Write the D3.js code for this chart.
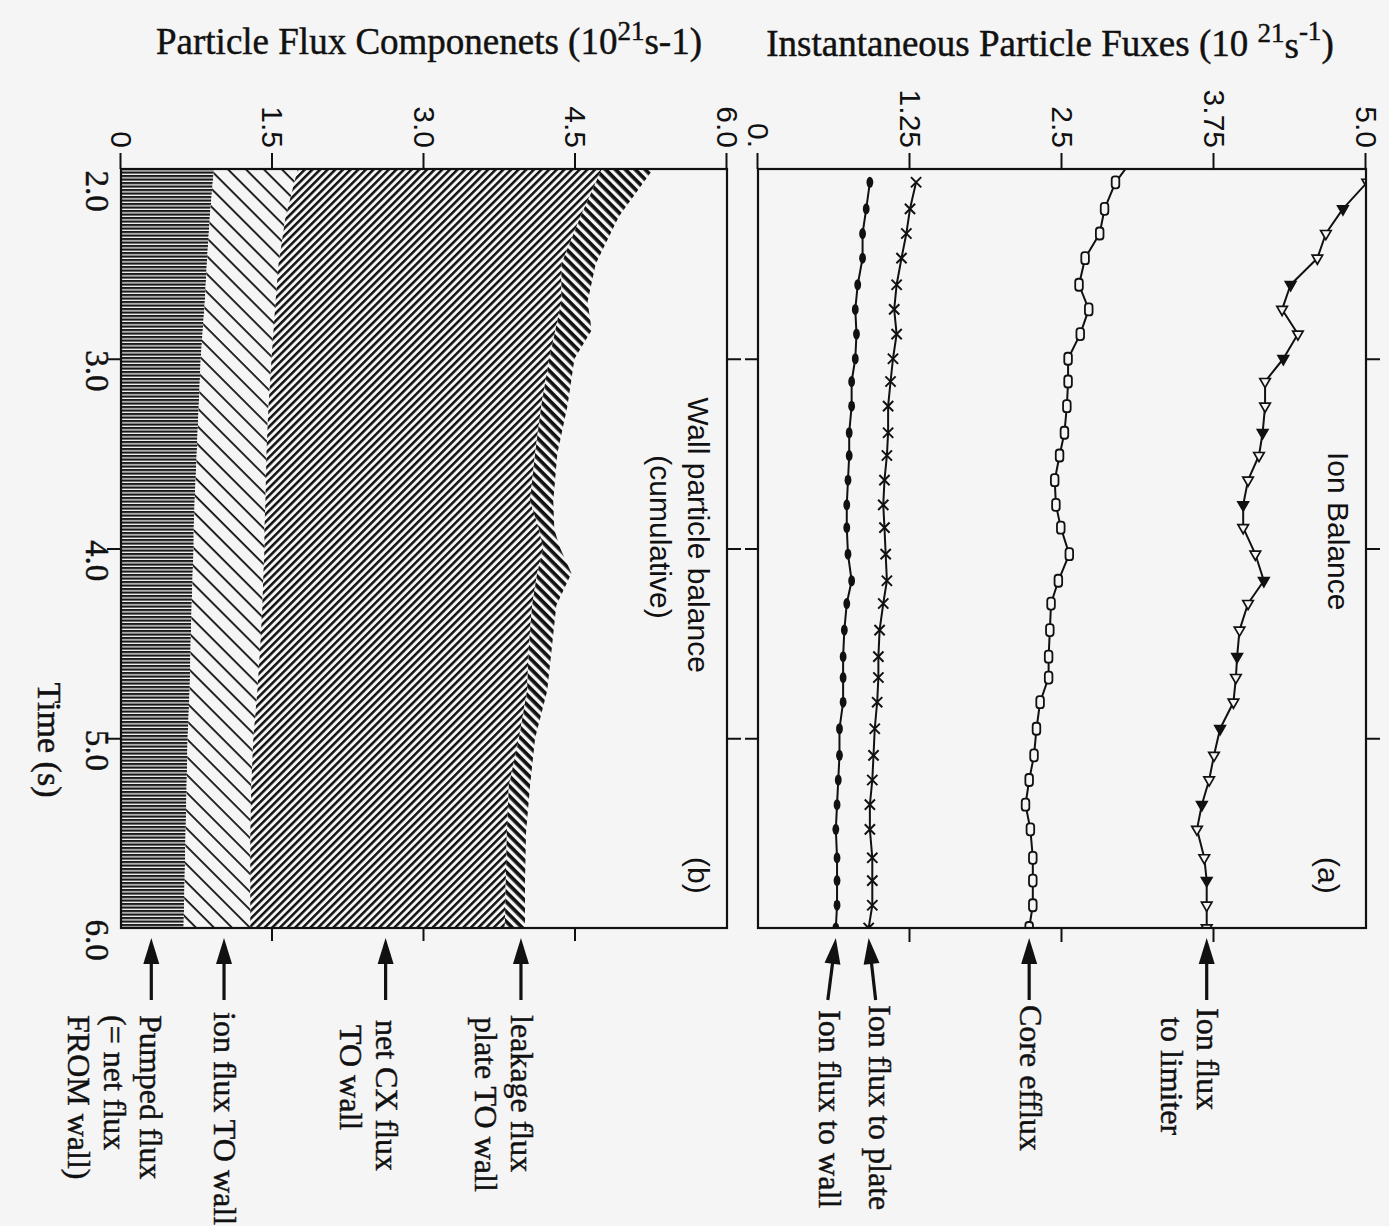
<!DOCTYPE html>
<html>
<head>
<meta charset="utf-8">
<script src="https://cdn.jsdelivr.net/npm/d3@7"></script>
<style>
  html, body { margin: 0; padding: 0; background: #f5f5f5; }
  svg { display: block; }
</style>
</head>
<body>
<svg id="chart" width="1389" height="1226"></svg>
<script>
// ---------- Panel (a): instantaneous particle fluxes (10^21 s^-1) ----------
const timesA = [1.95, 2.07, 2.21, 2.34, 2.47, 2.61, 2.74, 2.87, 3.0, 3.12, 3.25,
  3.39, 3.51, 3.64, 3.77, 3.89, 4.03, 4.17, 4.29, 4.43, 4.57,
  4.68, 4.81, 4.95, 5.09, 5.22, 5.35, 5.48, 5.63, 5.75, 5.88, 6.0];
const ionToLimiter = [5.2, 5.01, 4.81, 4.67, 4.60, 4.38, 4.31, 4.44, 4.32, 4.17, 4.17,
  4.15, 4.12, 4.03, 3.99, 3.99, 4.09, 4.16, 4.03, 3.96, 3.94,
  3.93, 3.91, 3.80, 3.75, 3.71, 3.65, 3.61, 3.67, 3.69, 3.69, 3.69];
const coreEfflux = [3.08, 2.94, 2.85, 2.81, 2.69, 2.64, 2.72, 2.65, 2.55, 2.55, 2.54,
  2.52, 2.48, 2.44, 2.45, 2.49, 2.56, 2.47, 2.41, 2.40, 2.39,
  2.39, 2.32, 2.29, 2.27, 2.23, 2.20, 2.24, 2.26, 2.26, 2.26, 2.23];
const ionToPlate = [null, 1.30, 1.25, 1.22, 1.18, 1.14, 1.12, 1.14, 1.11, 1.09, 1.07,
  1.07, 1.06, 1.04, 1.03, 1.04, 1.05, 1.06, 1.03, 1.00, 0.99,
  0.99, 0.98, 0.96, 0.95, 0.94, 0.92, 0.92, 0.94, 0.94, 0.94, 0.91];
const ionToWall = [null, 0.92, 0.89, 0.86, 0.86, 0.82, 0.80, 0.81, 0.80, 0.77, 0.77,
  0.75, 0.75, 0.74, 0.73, 0.73, 0.74, 0.77, 0.73, 0.71, 0.70,
  0.70, 0.70, 0.67, 0.67, 0.66, 0.65, 0.64, 0.65, 0.65, 0.65, 0.64];

// ---------- Panel (b): wall particle balance components (10^21 s^-1), stacked ----------
const timesB = [2.0, 2.25, 2.5, 2.7, 2.85, 3.0, 3.25, 3.5, 3.75, 3.9, 4.0, 4.13, 4.3, 4.5, 4.75, 5.0, 5.25, 5.5, 5.75, 6.0];
const pumpedFlux  = [0.92, 0.88, 0.85, 0.83, 0.81, 0.79, 0.77, 0.75, 0.73, 0.72, 0.72, 0.71, 0.70, 0.69, 0.68, 0.66, 0.65, 0.64, 0.63, 0.62];
const ionFluxToWall = [0.83, 0.75, 0.71, 0.70, 0.70, 0.70, 0.69, 0.69, 0.70, 0.70, 0.70, 0.70, 0.70, 0.69, 0.67, 0.65, 0.64, 0.64, 0.65, 0.66];
const netCxToWall = [3.01, 2.92, 2.80, 2.83, 2.79, 2.75, 2.70, 2.66, 2.62, 2.72, 2.76, 2.71, 2.67, 2.66, 2.67, 2.63, 2.55, 2.54, 2.53, 2.52];
const leakageToWall = [0.51, 0.38, 0.34, 0.26, 0.36, 0.25, 0.26, 0.22, 0.23, 0.15, 0.17, 0.34, 0.24, 0.23, 0.20, 0.16, 0.21, 0.19, 0.19, 0.20];

// Tick labels
const timeTicks = [2.0, 3.0, 4.0, 5.0, 6.0];
const timeTickLabels = ["2.0", "3.0", "4.0", "5.0", "6.0"];
const ticksA = [0, 1.25, 2.5, 3.75, 5.0];
const tickLabelsA = ["0.", "1.25", "2.5", "3.75", "5.0"];
const ticksB = [0, 1.5, 3.0, 4.5, 6.0];
const tickLabelsB = ["0", "1.5", "3.0", "4.5", "6.0"];

// Arrow call-outs: value pointed at (at t = 6.0) and text lines
const calloutsA = [
  { key: "wall",    value: ionToWall[ionToWall.length - 1],       lines: ["Ion flux to wall"] },
  { key: "plate",   value: ionToPlate[ionToPlate.length - 1],     lines: ["Ion flux to plate"] },
  { key: "core",    value: coreEfflux[coreEfflux.length - 1],     lines: ["Core efflux"] },
  { key: "limiter", value: ionToLimiter[ionToLimiter.length - 1], lines: ["Ion flux", "to limiter"] }
];
const calloutsB = [
  { key: "pumped",  value: 0.30, lines: ["Pumped flux", "(= net flux", "FROM wall)"] },
  { key: "ionwall", value: 1.02, lines: ["ion flux TO wall"] },
  { key: "cx",      value: 2.62, lines: ["net CX flux", "TO wall"] },
  { key: "leak",    value: 3.96, lines: ["leakage flux", "plate TO wall"] }
];

// ---------- Drawing ----------
const BG = "#f5f5f5", INK = "#111";
const SERIF = "'Liberation Serif', 'Times New Roman', serif";
const SANS = "'Liberation Sans', Arial, Helvetica, sans-serif";

const svg = d3.select("#chart");
svg.append("rect").attr("width", 1389).attr("height", 1226).attr("fill", BG);

const defs = svg.append("defs");
function stripes(id, period, width, angle, color) {
  const p = defs.append("pattern")
    .attr("id", id)
    .attr("patternUnits", "userSpaceOnUse")
    .attr("width", period).attr("height", period)
    .attr("patternTransform", `rotate(${angle})`);
  p.append("rect").attr("width", period).attr("height", period).attr("fill", BG);
  p.append("rect").attr("x", 0).attr("y", 0).attr("width", width).attr("height", period).attr("fill", color);
}
stripes("hatch-pumped", 3.5, 2.2, 0, "#1a1a1a");
stripes("hatch-ionwall", 12.7, 1.8, 45, INK);
stripes("hatch-cx", 5.4, 2.5, -45, INK);
stripes("hatch-leak", 7.0, 3.7, 45, INK);

// The whole figure is laid out landscape and turned a quarter turn clockwise.
const g = svg.append("g").attr("transform", "translate(1389,0) rotate(90)");

const x = d3.scaleLinear().domain([2, 6]).range([169, 928]);
const yA = d3.scaleLinear().domain([0, 5]).range([631, 23]);
const yB = d3.scaleLinear().domain([0, 6]).range([1268, 662]);

const frameA = { x0: 169, x1: 928, y0: 23, y1: 631 };
const frameB = { x0: 169, x1: 928, y0: 662, y1: 1268 };

defs.append("clipPath").attr("id", "clipA").append("rect")
  .attr("x", frameA.x0).attr("y", frameA.y0)
  .attr("width", frameA.x1 - frameA.x0).attr("height", frameA.y1 - frameA.y0);
defs.append("clipPath").attr("id", "clipB").append("rect")
  .attr("x", frameB.x0).attr("y", frameB.y0)
  .attr("width", frameB.x1 - frameB.x0).attr("height", frameB.y1 - frameB.y0);

// ----- Panel (b) stacked hatched areas -----
const rowsB = timesB.map((t, i) => ({
  t, pumped: pumpedFlux[i], ionwall: ionFluxToWall[i], cx: netCxToWall[i], leak: leakageToWall[i]
}));
const stackB = d3.stack().keys(["pumped", "ionwall", "cx", "leak"])(rowsB);
const fills = { pumped: "url(#hatch-pumped)", ionwall: "url(#hatch-ionwall)", cx: "url(#hatch-cx)", leak: "url(#hatch-leak)" };
const areaB = d3.area()
  .x(d => x(d.data.t))
  .y0(d => yB(d[0]))
  .y1(d => yB(d[1]));
g.append("g").attr("clip-path", "url(#clipB)")
  .selectAll("path").data(stackB).join("path")
  .attr("d", areaB)
  .attr("fill", d => fills[d.key]);

// ----- Panel (a) lines and markers -----
const seriesA = [
  { key: "limiter", values: ionToLimiter },
  { key: "core", values: coreEfflux },
  { key: "plate", values: ionToPlate },
  { key: "wall", values: ionToWall }
].map(s => ({ key: s.key, pts: timesA.map((t, i) => ({ t, v: s.values[i] })) }));

const lineA = d3.line()
  .defined(d => d.v != null)
  .x(d => x(d.t))
  .y(d => yA(d.v));

const plotA = g.append("g").attr("clip-path", "url(#clipA)");
plotA.selectAll("path.series").data(seriesA).join("path")
  .attr("class", "series")
  .attr("d", d => lineA(d.pts))
  .attr("fill", "none")
  .attr("stroke", INK)
  .attr("stroke-width", 2)
  .attr("stroke-linejoin", "round");

const tri = d3.symbol(d3.symbolTriangle, 48)();
const cross = d3.symbol(d3.symbolX, 70)();
seriesA.forEach(s => {
  const pts = s.pts.filter(d => d.v != null && d.t >= 2.0);
  const mg = plotA.append("g");
  if (s.key === "limiter") {
    mg.selectAll("path").data(pts).join("path")
      .attr("d", tri)
      .attr("transform", d => `translate(${x(d.t)},${yA(d.v)}) rotate(90)`)
      .attr("fill", (d, i) => i % 3 === 1 ? INK : BG)
      .attr("stroke", INK).attr("stroke-width", 1.7);
  } else if (s.key === "core") {
    mg.selectAll("rect").data(pts).join("rect")
      .attr("x", d => x(d.t) - 6).attr("y", d => yA(d.v) - 3.8)
      .attr("width", 12).attr("height", 7.6).attr("rx", 3)
      .attr("fill", BG).attr("stroke", INK).attr("stroke-width", 1.8);
  } else if (s.key === "plate") {
    mg.selectAll("path").data(pts).join("path")
      .attr("d", cross)
      .attr("transform", d => `translate(${x(d.t)},${yA(d.v)})`)
      .attr("fill", "none").attr("stroke", INK).attr("stroke-width", 2);
  } else {
    mg.selectAll("ellipse").data(pts).join("ellipse")
      .attr("cx", d => x(d.t)).attr("cy", d => yA(d.v))
      .attr("rx", 5.5).attr("ry", 3.4)
      .attr("fill", INK);
  }
});

// ----- Frames -----
[frameA, frameB].forEach(f => {
  g.append("rect")
    .attr("x", f.x0).attr("y", f.y0)
    .attr("width", f.x1 - f.x0).attr("height", f.y1 - f.y0)
    .attr("fill", "none").attr("stroke", INK).attr("stroke-width", 2.2);
});

// ----- Axes -----
function styleAxis(sel) {
  sel.select(".domain").remove();
  sel.selectAll(".tick line").attr("stroke", INK).attr("stroke-width", 2);
}

// value axes (with labels)
g.append("g").attr("transform", `translate(${frameA.x0},0)`)
  .call(d3.axisLeft(yA).tickValues(ticksA).tickFormat((d, i) => tickLabelsA[i]).tickSize(16).tickPadding(5))
  .call(styleAxis)
  .call(a => a.selectAll("text").attr("font-family", SANS).attr("font-size", 30).attr("fill", INK));
g.append("g").attr("transform", `translate(${frameB.x0},0)`)
  .call(d3.axisLeft(yB).tickValues(ticksB).tickFormat((d, i) => tickLabelsB[i]).tickSize(16).tickPadding(5))
  .call(styleAxis)
  .call(a => a.selectAll("text").attr("font-family", SANS).attr("font-size", 30).attr("fill", INK));

// value ticks on the far time edge
g.append("g").attr("transform", `translate(${frameA.x1},0)`)
  .call(d3.axisRight(yA).tickValues([1.25, 2.5, 3.75]).tickFormat("").tickSize(14))
  .call(styleAxis);
g.append("g").attr("transform", `translate(${frameB.x1},0)`)
  .call(d3.axisRight(yB).tickValues([1.5, 3.0, 4.5]).tickFormat("").tickSize(13))
  .call(styleAxis);

// time ticks on both long edges of each panel
const innerTimes = [3.0, 4.0, 5.0];
g.append("g").attr("transform", `translate(0,${frameA.y0})`)
  .call(d3.axisTop(x).tickValues(innerTimes).tickFormat("").tickSize(14)).call(styleAxis);
g.append("g").attr("transform", `translate(0,${frameA.y1})`)
  .call(d3.axisBottom(x).tickValues(innerTimes).tickFormat("").tickSize(13)).call(styleAxis);
g.append("g").attr("transform", `translate(0,${frameB.y0})`)
  .call(d3.axisTop(x).tickValues(innerTimes).tickFormat("").tickSize(14)).call(styleAxis);
g.append("g").attr("transform", `translate(0,${frameB.y1})`)
  .call(d3.axisBottom(x).tickValues(innerTimes).tickFormat("").tickSize(14)).call(styleAxis);

// serif text is drawn with a hairline outline to give it the heavier printed weight
function serif(sel, size) {
  return sel.attr("font-family", SERIF).attr("font-size", size)
    .attr("fill", INK).attr("stroke", INK).attr("stroke-width", 0.45);
}

// time tick labels
g.append("g").selectAll("text").data(timeTicks).join("text")
  .attr("x", (d, i) => x(d) + (i === 0 ? 22 : 12))
  .attr("y", 1303)
  .attr("text-anchor", "middle")
  .call(serif, 33)
  .text((d, i) => timeTickLabels[i]);

g.append("text")
  .attr("x", 740).attr("y", 1351)
  .attr("text-anchor", "middle")
  .call(serif, 34)
  .text("Time (s)");

// axis titles
const titleA = g.append("text")
  .attr("transform", "translate(56,339) rotate(-90)")
  .attr("text-anchor", "middle")
  .call(serif, 37);
titleA.append("tspan").text("Instantaneous Particle Fuxes (10 ");
titleA.append("tspan").attr("dy", -14).attr("font-size", 27).text("21");
titleA.append("tspan").attr("dy", 16).text("s");
titleA.append("tspan").attr("dy", -18).attr("font-size", 27).text("-1");
titleA.append("tspan").attr("dy", 16).text(")");

const titleB = g.append("text")
  .attr("transform", "translate(54,960) rotate(-90)")
  .attr("text-anchor", "middle")
  .call(serif, 37);
titleB.append("tspan").text("Particle Flux Componenets (10");
titleB.append("tspan").attr("dy", -14).attr("font-size", 27).text("21");
titleB.append("tspan").attr("dy", 14).text("s-1)");

// in-panel labels
const inPanel = [
  { text: "Ion Balance", x: 452, y: 61, anchor: "start" },
  { text: "(a)", x: 857, y: 71, anchor: "start" },
  { text: "Wall particle balance", x: 535, y: 701, anchor: "middle" },
  { text: "(cumulative)", x: 537, y: 739, anchor: "middle" },
  { text: "(b)", x: 857, y: 701, anchor: "start" }
];
g.append("g").selectAll("text").data(inPanel).join("text")
  .attr("x", d => d.x).attr("y", d => d.y)
  .attr("text-anchor", d => d.anchor)
  .attr("font-family", SANS).attr("font-size", 30).attr("fill", INK)
  .text(d => d.text);

// ----- Arrow call-outs -----
const calloutLayout = {
  wall:    { tilt: 8,  textX: 1010, textY: 570, indent: [0] },
  plate:   { tilt: -7, textX: 1005, textY: 520, indent: [0] },
  core:    { tilt: 0,  textX: 1005, textY: 369, indent: [0] },
  limiter: { tilt: 0,  textX: 1008, textY: 192, indent: [0, 9] },
  pumped:  { tilt: 0,  textX: 1015, textY: 1249, indent: [0, 0, 0] },
  ionwall: { tilt: 0,  textX: 1012, textY: 1175, indent: [0] },
  cx:      { tilt: 0,  textX: 1020, textY: 1013, indent: [0, 5] },
  leak:    { tilt: 0,  textX: 1015, textY: 878, indent: [0, 2] }
};
function drawCallout(c, yScale) {
  const L = calloutLayout[c.key];
  const tipX = 938, tipY = yScale(c.value);
  const baseX = 1000, baseY = tipY + L.tilt;
  const ang = Math.atan2(baseY - tipY, baseX - tipX);
  const headLen = 26, headHalf = 8;
  const hx = tipX + headLen * Math.cos(ang), hy = tipY + headLen * Math.sin(ang);
  const nx = -Math.sin(ang) * headHalf, ny = Math.cos(ang) * headHalf;
  const cg = g.append("g");
  cg.append("line")
    .attr("x1", hx - 2 * Math.cos(ang)).attr("y1", hy - 2 * Math.sin(ang))
    .attr("x2", baseX).attr("y2", baseY)
    .attr("stroke", INK).attr("stroke-width", 3.2);
  cg.append("path")
    .attr("d", `M${tipX},${tipY}L${hx + nx},${hy + ny}L${hx - nx},${hy - ny}Z`)
    .attr("fill", INK);
  c.lines.forEach((line, i) => {
    cg.append("text")
      .attr("x", L.textX + (L.indent[i] || 0))
      .attr("y", L.textY + i * 36)
      .call(serif, 32)
      .text(line);
  });
}
calloutsA.forEach(c => drawCallout(c, yA));
calloutsB.forEach(c => drawCallout(c, yB));
</script>
</body>
</html>
